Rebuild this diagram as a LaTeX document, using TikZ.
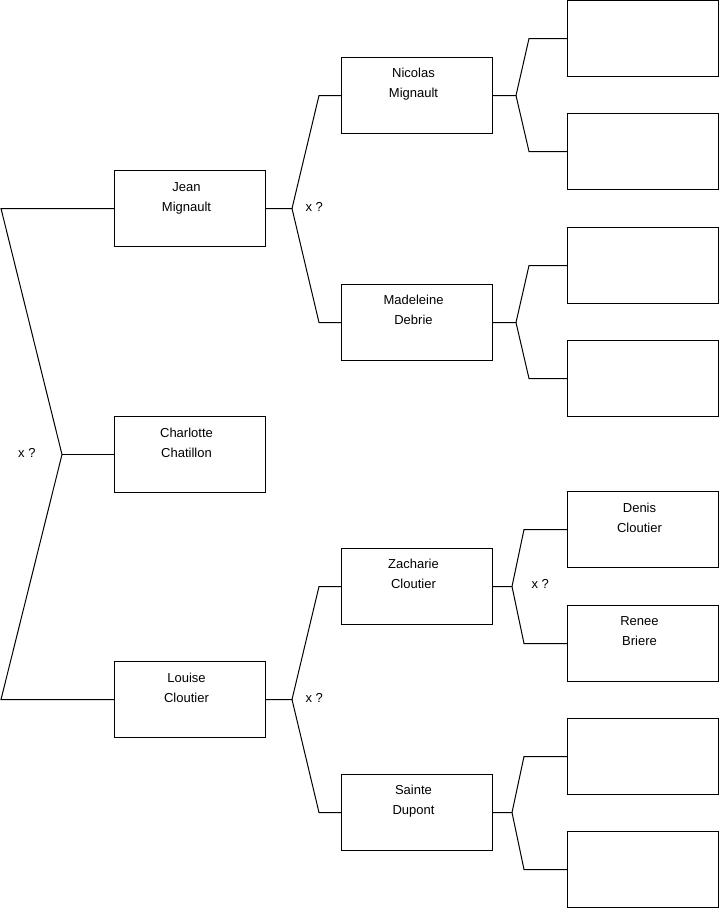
\documentclass[tikz,border=0pt]{standalone}
\usepackage{fontspec}
\setmainfont{Liberation Sans}
\usetikzlibrary{positioning}

\begin{document}
\begin{tikzpicture}[x=1pt, y=-1pt, line width=1pt,
  person/.style={draw, anchor=north west, minimum width=151pt, minimum height=76pt, inner sep=0pt},
  who/.style={align=center, inner sep=0pt, xshift=-3.5pt, font=\fontsize{13}{20}\selectfont},
  guess/.style={inner sep=0pt, font=\fontsize{13}{16}\selectfont}]
  \useasboundingbox (0,0) rectangle (719,908);
  % first generation
  \node[person] (jean) at (114,170) {};
  \node[person] (charlotte) at (114,416) {};
  \node[person] (louise) at (114,661) {};
  % second generation
  \node[person] (nicolas) at (341,57) {};
  \node[person] (madeleine) at (341,284) {};
  \node[person] (zacharie) at (341,548) {};
  \node[person] (sainte) at (341,774) {};
  % third generation
  \node[person] (gp1) at (567,0) {};
  \node[person] (gp2) at (567,113) {};
  \node[person] (gp3) at (567,227) {};
  \node[person] (gp4) at (567,340) {};
  \node[person] (denis) at (567,491) {};
  \node[person] (renee) at (567,605) {};
  \node[person] (gp7) at (567,718) {};
  \node[person] (gp8) at (567,831) {};
  % names
  \node[who, below=12pt of jean.north] (jeantxt) {Jean\\Mignault};
  \node[who, below=12pt of charlotte.north] (charlottetxt) {Charlotte\\Chatillon};
  \node[who, below=12pt of louise.north] (louisetxt) {Louise\\Cloutier};
  \node[who, below=11pt of nicolas.north] (nicolastxt) {Nicolas\\Mignault};
  \node[who, below=11pt of madeleine.north] (madeleinetxt) {Madeleine\\Debrie};
  \node[who, below=11pt of zacharie.north] (zacharietxt) {Zacharie\\Cloutier};
  \node[who, below=11pt of sainte.north] (saintetxt) {Sainte\\Dupont};
  \node[who, below=11.5pt of denis.north] (denistxt) {Denis\\Cloutier};
  \node[who, below=11.5pt of renee.north] (reneetxt) {Renee\\Briere};
  % forks
  \coordinate[left=52pt of charlotte.west] (rootfork);
  \coordinate[left=113pt of jean.west] (jeanend);
  \coordinate[left=113pt of louise.west] (louiseend);
  \coordinate[right=26pt of jean.east] (jeanfork);
  \coordinate[right=26pt of louise.east] (louisefork);
  \coordinate[right=23pt of nicolas.east] (nicolasfork);
  \coordinate[right=23pt of madeleine.east] (madeleinefork);
  \coordinate[right=19pt of zacharie.east] (zachariefork);
  \coordinate[right=19pt of sainte.east] (saintefork);
  % connectors
  \draw (jean.west) -- (jeanend) -- (rootfork) -- (louiseend) -- (louise.west);
  \draw (rootfork) -- (charlotte.west);
  \draw (jean.east) -- (jeanfork) -- ([xshift=-22pt]nicolas.west) -- (nicolas.west);
  \draw (jeanfork) -- ([xshift=-22pt]madeleine.west) -- (madeleine.west);
  \draw (louise.east) -- (louisefork) -- ([xshift=-22pt]zacharie.west) -- (zacharie.west);
  \draw (louisefork) -- ([xshift=-22pt]sainte.west) -- (sainte.west);
  \draw (nicolas.east) -- (nicolasfork) -- ([xshift=-38pt]gp1.west) -- (gp1.west);
  \draw (nicolasfork) -- ([xshift=-38pt]gp2.west) -- (gp2.west);
  \draw (madeleine.east) -- (madeleinefork) -- ([xshift=-38pt]gp3.west) -- (gp3.west);
  \draw (madeleinefork) -- ([xshift=-38pt]gp4.west) -- (gp4.west);
  \draw (zacharie.east) -- (zachariefork) -- ([xshift=-43pt]denis.west) -- (denis.west);
  \draw (zachariefork) -- ([xshift=-43pt]renee.west) -- (renee.west);
  \draw (sainte.east) -- (saintefork) -- ([xshift=-43pt]gp7.west) -- (gp7.west);
  \draw (saintefork) -- ([xshift=-43pt]gp8.west) -- (gp8.west);
  % unknown marriages
  \node[guess, left=26pt of rootfork, yshift=1.5pt] (rootguess) {x ?};
  \node[guess, right=13pt of jeanfork, yshift=1.5pt] (jeanguess) {x ?};
  \node[guess, right=13pt of louisefork, yshift=1.5pt] (louiseguess) {x ?};
  \node[guess, right=19pt of zachariefork, yshift=3pt] (zachguess) {x ?};
\end{tikzpicture}
\end{document}
